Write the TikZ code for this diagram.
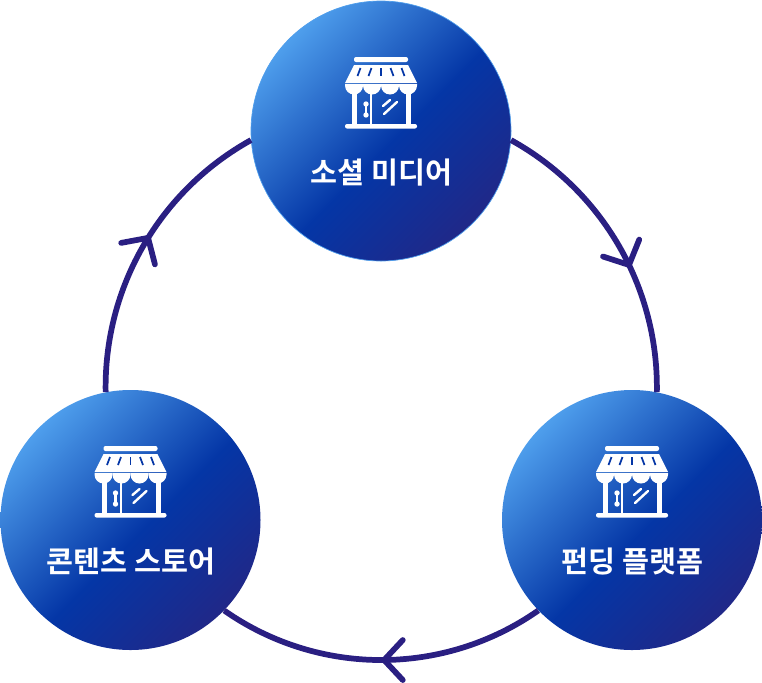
\documentclass[tikz,border=0pt]{standalone}
\usepackage{fontspec}
\setmainfont{Noto Sans CJK KR}[BoldFont={* Bold}]
\usetikzlibrary{arrows.meta,decorations.markings}
\definecolor{myline}{RGB}{42,31,130}
\definecolor{myblue}{RGB}{4,54,166}
\definecolor{mylight}{RGB}{78,158,236}
\definecolor{mydark}{RGB}{32,40,136}
\pgfdeclarehorizontalshading{circleShade}{100bp}{
  color(0bp)=(mylight); color(25bp)=(mylight); color(53bp)=(myblue); color(75bp)=(mydark); color(100bp)=(mydark)}
\tikzset{
		x=0.75pt, y=-0.75pt,
		platform/.style = {circle, minimum size=195pt, inner sep=0pt, shading=circleShade, shading angle=315},
		platformEdge/.style = {platform, draw=mylight, line width=0.5pt},
		caption/.style = {text=white, font=\fontsize{22pt}{24pt}\bfseries},
		edgeStyle/.style = {line width=4.3pt, color=myline},
		midArrow/.style = {postaction={decorate, decoration={markings,
			mark=at position #1 with {\arrow[line width=4.3pt, color=myline]{Straight Barb[length=14pt, width=30pt, round]}}}}},
		iconFill/.style = {fill=white, draw=none},
		iconLine/.style = {draw=white, line width=1.5pt},
		iconCut/.style = {draw=myblue, line width=1.3pt},
		pics/storeIcon/.style = {code = {
			% roof bar and awning
			\fill [iconFill, rounded corners=1.5pt] (-27,-35) rectangle (27,-30);
			\fill [iconFill] (-27,-27) -- (27,-27) -- (36,-9) -- (-36,-9) -- cycle;
			\foreach \xa/\xb in {-20.5/-23.5, -9.5/-12.5, 0/0, 9.5/12.5, 20.5/23.5}
				\draw [iconCut] (\xa,-24) -- (\xb,-16);
			% scallops
			\foreach \x in {-27,-9,9,27}
				\fill [iconFill] (\x-9,-8) -- (\x+9,-8) -- (\x+9,-6.5) arc [start angle=0, end angle=180, radius=9] -- cycle;
			% posts, door and floor
			\fill [iconFill] (-29,-2) rectangle (-24,33);
			\fill [iconFill] (25,-2) rectangle (30,33);
			\draw [iconLine] (-10,2) -- (-10,33);
			\fill [iconFill, rounded corners=1.5pt] (-36,32) rectangle (36,36.5);
			\draw [iconLine, line width=2pt] (-15,12) -- (-15,23);
			\fill [iconFill] (-15,12) circle (2.7) (-15,23) circle (2.7);
			\draw [iconLine, line width=1.8pt, line cap=round] (2,14) -- (9,8) (3,22) -- (16,10);
		}}
}

\begin{document}
\begin{tikzpicture}
  \useasboundingbox (0,0) rectangle (762,682);

  % Draw platform circles with icon and caption
  \foreach \name/\x/\y/\txt/\kind in {social/381/131/소셜 미디어/platformEdge, funding/632/520/펀딩 플랫폼/platform, content/130.5/520/콘텐츠 스토어/platform}
    {
    \node [\kind] (\name) at (\x,\y) {};
    \pic at (\x,\y-39) {storeIcon};
    \node [caption] (\name Text) at (\x+0.5,\y+41.5) {\txt};
    }

  % Draw arcs between the circles
  \draw [edgeStyle, midArrow=0.58] (social.-4.4) to[bend left=31, looseness=0.92] (funding.79.5);
  \draw [edgeStyle, midArrow=0.5] (funding.224) to[bend left=35, looseness=0.94] (content.-44);
  \draw [edgeStyle, midArrow=0.54] (content.101) to[bend left=31, looseness=0.92] (social.184.4);

\end{tikzpicture}
\end{document}
